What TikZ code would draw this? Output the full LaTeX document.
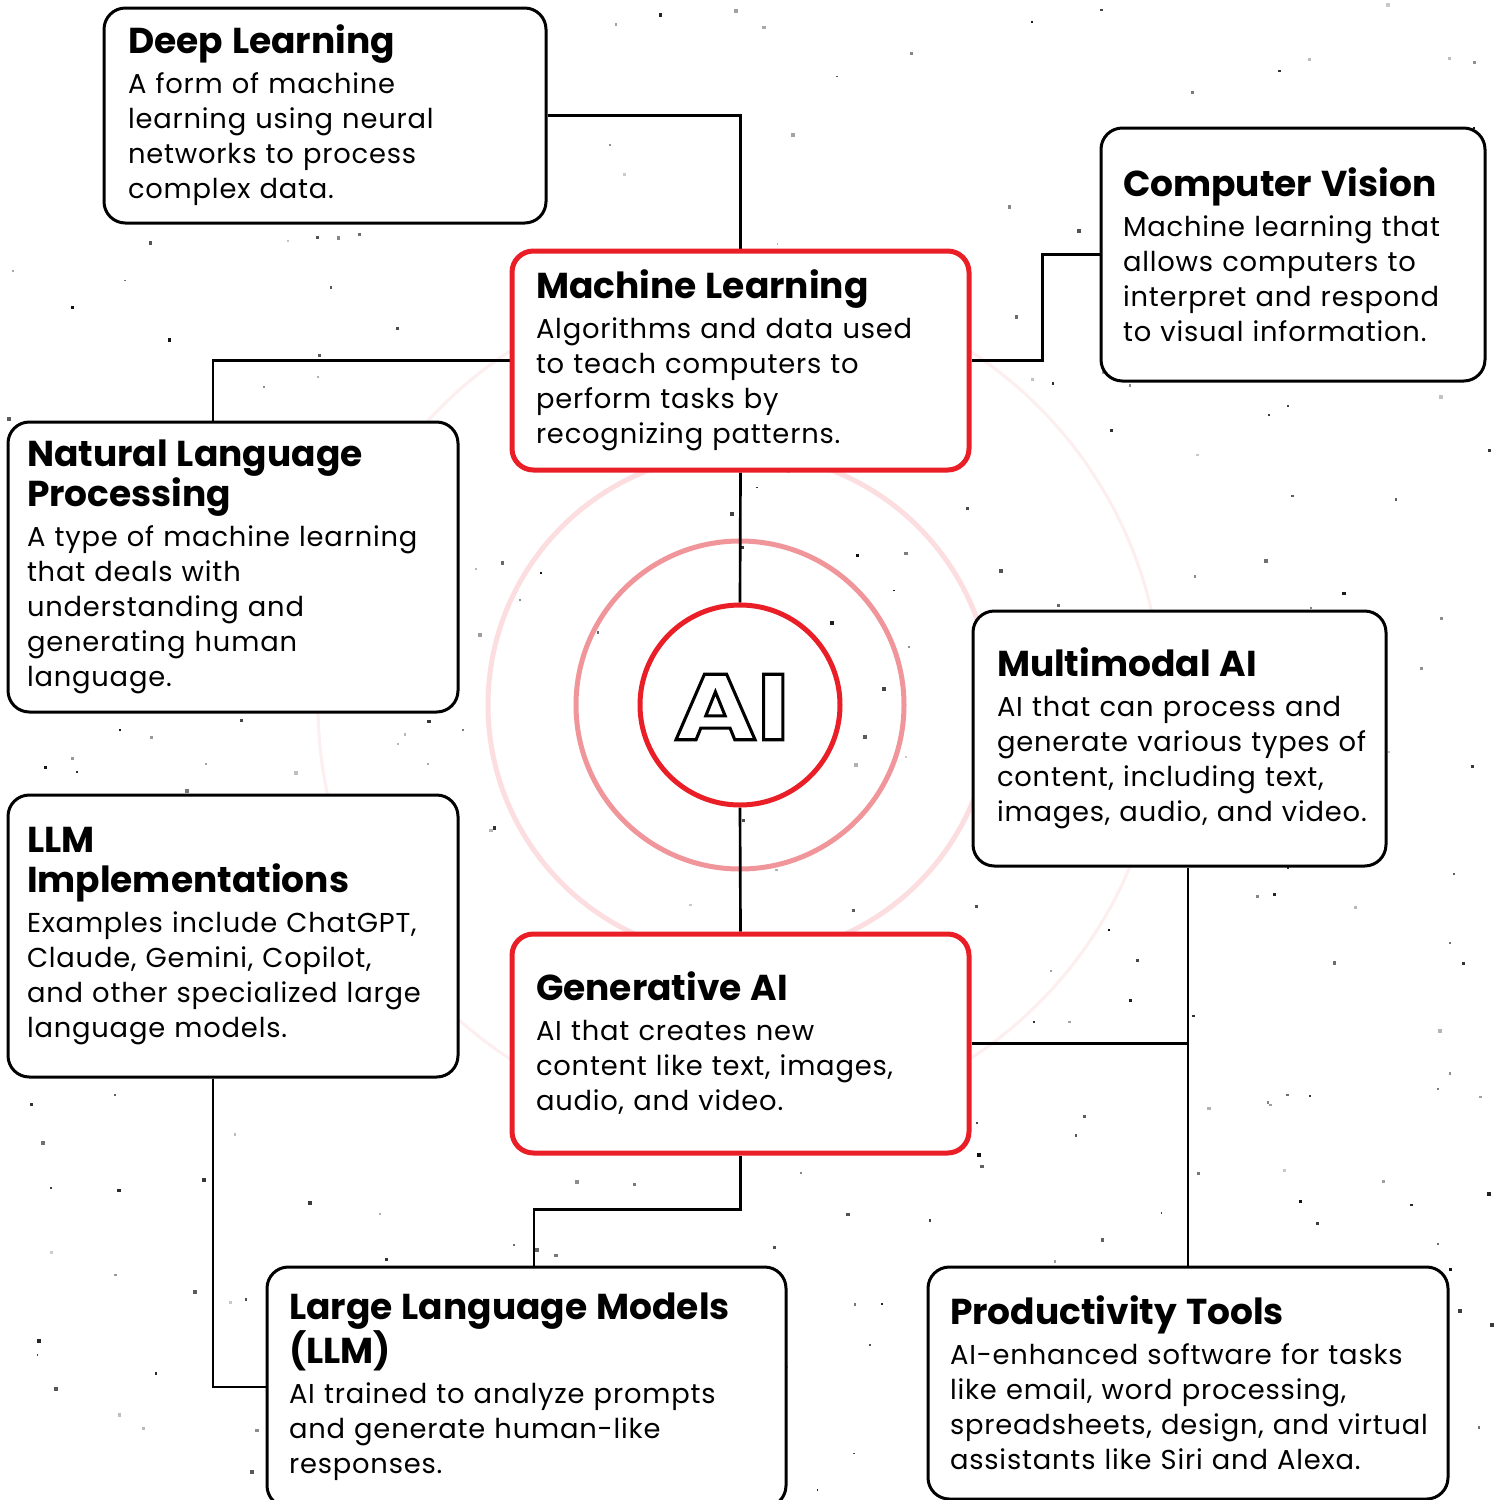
\documentclass[tikz,border=0pt]{standalone}
\usepackage{fontspec}
\setmainfont{Poppins}[LetterSpace=3]
\newfontfamily\aifont{Poppins}[FakeStretch=1.2]
\usetikzlibrary{backgrounds}
\definecolor{aired}{RGB}{234,30,38}
\definecolor{aipink}{RGB}{240,150,155}
\definecolor{aiblush}{RGB}{252,222,224}
\definecolor{aimist}{RGB}{253,238,239}
\newcommand{\boxtitle}[2][10.5pt]{\leftskip=#1{\addfontfeature{LetterSpace=0}\fontsize{27}{30}\selectfont\bfseries #2\par}\vspace{3.75pt}}
\newcommand{\outlinetext}[1]{\special{pdf:literal direct 2 Tr 2.3 w 0 G 1 g}#1\special{pdf:literal direct 0 Tr 0 g}}
\tikzset{every picture/.style={line width=0.75pt}}
\tikzset{
  infobox/.style={draw=black, line width=2.25pt, rounded corners=16pt, fill=white,
    align=left, inner sep=0pt, font=\fontsize{20.5}{26.25}\selectfont},
  redbox/.style={infobox, draw=aired, line width=3.75pt},
  link/.style={draw=black, line width=2pt}
}

\begin{document}
\begin{tikzpicture}[x=0.75pt,y=0.75pt,yscale=-1,xscale=1]
\useasboundingbox (0,0) rectangle (1494,1500);

%Shape: Circle
\node[circle, draw=aired, line width=3.75pt, fill=white, minimum size=150pt, inner sep=0pt] (ai) at (740,705) {};
% Text Node
\node[inner sep=0pt, font=\aifont\fontsize{70}{70}\selectfont\bfseries] (ailogo) at ([xshift=-6pt,yshift=1.5pt]ai.center)
  {\outlinetext{AI}};

% Text Node
\node[infobox, minimum width=331.5pt, minimum height=161.25pt, text width=316.5pt] (dl) at (325,115.5)
  {\boxtitle{Deep Learning}A form of machine\\learning using neural\\networks to process\\complex data.\par};
% Text Node
\node[infobox, minimum width=288pt, minimum height=189.75pt, text width=273pt] (cv) at (1293,254.5)
  {\boxtitle[9pt]{Computer Vision}Machine learning that\\allows computers to\\interpret and respond\\to visual information.\par};
% Text Node
\node[redbox, minimum width=342.75pt, minimum height=164.25pt, text width=327.75pt] (ml) at (740.5,360.5)
  {\boxtitle{Machine Learning}Algorithms and data used\\to teach computers to\\perform tasks by\\recognizing patterns.\par};
% Text Node
\node[infobox, minimum width=337.5pt, minimum height=217.5pt, text width=322.5pt] (nlp) at (233,567)
  {\boxtitle[6.75pt]{Natural Language\\Processing}A type of machine learning\\that deals with\\understanding and\\generating human\\language.\par};
% Text Node
\node[infobox, minimum width=309.75pt, minimum height=191.25pt, text width=294.75pt] (mm) at (1179.5,738.5)
  {\boxtitle{Multimodal AI}AI that can process and\\generate various types of\\content, including text,\\images, audio, and video.\par};
% Text Node
\node[infobox, minimum width=337.5pt, minimum height=211.5pt, text width=322.5pt] (llmimpl) at (233,936)
  {\boxtitle[6.75pt]{LLM\\Implementations}Examples include ChatGPT,\\Claude, Gemini, Copilot,\\and other specialized large\\language models.\par};
% Text Node
\node[redbox, minimum width=342.75pt, minimum height=164.25pt, text width=327.75pt] (gen) at (740.5,1043.5)
  {\boxtitle{Generative AI}AI that creates new\\content like text, images,\\audio, and video.\par};
% Text Node
\node[infobox, minimum width=389.25pt, minimum height=180pt, text width=374.25pt] (llm) at (526.5,1387)
  {\boxtitle[9pt]{Large Language Models\\(LLM)}AI trained to analyze prompts\\and generate human-like\\responses.\par};
% Text Node
\node[infobox, minimum width=390pt, minimum height=174pt, text width=375pt] (prod) at (1188,1383)
  {\boxtitle[9pt]{Productivity Tools}AI-enhanced software for tasks\\like email, word processing,\\spreadsheets, design, and virtual\\assistants like Siri and Alexa.\par};

\begin{pgfonlayer}{background}
\fill[white] (0,0) rectangle (1494,1500);
%Background specks
\pgfmathsetseed{731}
\foreach \i in {1,...,320} {
  \pgfmathsetmacro\dx{rnd*1494}
  \pgfmathsetmacro\dy{rnd*1500}
  \pgfmathsetmacro\ds{1.5+rnd*2.5}
  \pgfmathsetmacro\gr{int(20+rnd*75)}
  \fill[black!\gr] (\dx,\dy) rectangle ++(\ds,\ds);
}
%Shape: Circle
\draw[aimist, line width=2.25pt] (ai.center) circle (422);
%Shape: Circle
\draw[aiblush, line width=3.75pt] (ai.center) circle (252);
%Shape: Circle
\draw[aipink, line width=3.75pt] (ai.center) circle (164);

%Straight Lines
\path[link] (dl.east) -| (ml.north);
\path[link] (ml.west) -| ([xshift=-15pt]nlp.north);
\path[link] (ml.east) -- ++(71,0) |- (cv.west);
\path[link] (ml.south) -- (ai.north);
\path[link] (ai.south) -- (gen.north);
\path[link] (gen.south) -- ++(0,54) -| ([xshift=5.6pt]llm.north);
\path[link] (gen.east) -- (gen.east -| prod.north);
\path[link] (mm.south -| prod.north) -- (prod.north);
\path[link] ([xshift=-15pt]llmimpl.south) |- (llm.west);
\end{pgfonlayer}

\end{tikzpicture}
\end{document}
